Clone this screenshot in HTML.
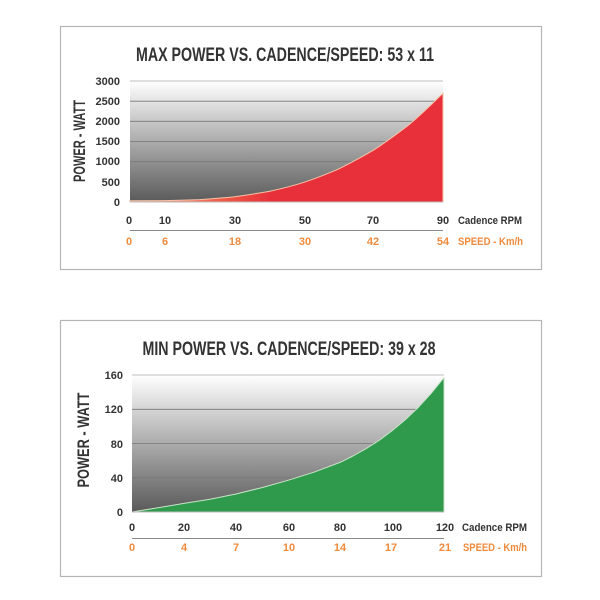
<!DOCTYPE html>
<html><head><meta charset="utf-8"><style>
html,body{margin:0;padding:0;background:#fff;}
svg{display:block;}
text{font-family:"Liberation Sans Narrow","Liberation Sans",sans-serif;font-weight:bold;}
</style></head><body>
<svg width="600" height="600" viewBox="0 0 600 600" xmlns="http://www.w3.org/2000/svg">
<defs>
<linearGradient id="bg1" x1="0" y1="0" x2="0" y2="1">
<stop offset="0" stop-color="#ffffff"/><stop offset="0.45" stop-color="#b4b4b4"/><stop offset="1" stop-color="#5a5a5a"/>
</linearGradient>
<linearGradient id="bg2" x1="0" y1="0" x2="0" y2="1">
<stop offset="0" stop-color="#ffffff"/><stop offset="0.45" stop-color="#b4b4b4"/><stop offset="1" stop-color="#5a5a5a"/>
</linearGradient>
<linearGradient id="red" x1="0" y1="0" x2="1" y2="0">
<stop offset="0" stop-color="#f2b59e"/><stop offset="0.3" stop-color="#ee5a45"/><stop offset="0.45" stop-color="#e8303a"/><stop offset="1" stop-color="#e8303a"/>
</linearGradient>
</defs>

<!-- Panel 1 -->
<rect x="60.5" y="26.5" width="481" height="243" fill="#fff" stroke="#b5b5b5" stroke-width="1.2"/>
<text x="285" y="61" font-size="19" text-anchor="middle" fill="#333" textLength="298" lengthAdjust="spacingAndGlyphs">MAX POWER VS. CADENCE/SPEED: 53 x 11</text>
<rect x="130" y="81" width="313" height="121" fill="url(#bg1)"/>
<g stroke="#777" stroke-width="0.8">
<line x1="130" y1="81" x2="443" y2="81" stroke="#aaa"/>
<line x1="130" y1="101.2" x2="443" y2="101.2"/>
<line x1="130" y1="121.3" x2="443" y2="121.3"/>
<line x1="130" y1="141.5" x2="443" y2="141.5"/>
<line x1="130" y1="161.7" x2="443" y2="161.7"/>
<line x1="130" y1="181.8" x2="443" y2="181.8"/>
</g>
<path d="M130,200.8 C147,200.7 160,200.7 164.8,200.6 C180,200.3 190,200 199.6,199.6 C212,198.8 224,197.9 234.4,196.8 C247,195 258,193.3 269.2,191.4 C281,188.8 293,185.8 304,182.3 C316,178.2 327,174 338.8,168.9 C351,162.8 362,157 373.6,150.1 C386,142 397,134 408.4,125.2 C420,115.5 432,104 443,93.1 L443,202 L130,202 Z" fill="url(#red)" stroke="#f6c3a8" stroke-width="1"/>
<line x1="130" y1="202" x2="443" y2="202" stroke="#bbb" stroke-width="1"/>
<g font-size="11" fill="#333" text-anchor="end">
<text x="120" y="85">3000</text><text x="120" y="105">2500</text><text x="120" y="125">2000</text>
<text x="120" y="145">1500</text><text x="120" y="165">1000</text><text x="120" y="186">500</text><text x="120" y="206">0</text>
</g>
<text transform="translate(85,141) rotate(-90)" font-size="17" fill="#333" text-anchor="middle" textLength="82" lengthAdjust="spacingAndGlyphs">POWER - WATT</text>
<g font-size="11" fill="#333" text-anchor="middle">
<text x="129" y="224">0</text><text x="165" y="224">10</text><text x="235" y="224">30</text>
<text x="305" y="224">50</text><text x="373" y="224">70</text><text x="443" y="224">90</text>
</g>
<text x="458" y="224" font-size="11" fill="#333" textLength="64" lengthAdjust="spacingAndGlyphs">Cadence RPM</text>
<line x1="130" y1="230.5" x2="443" y2="230.5" stroke="#888" stroke-width="1"/>
<g font-size="11" fill="#f08a3c" text-anchor="middle">
<text x="129" y="245">0</text><text x="165" y="245">6</text><text x="235" y="245">18</text>
<text x="305" y="245">30</text><text x="373" y="245">42</text><text x="443" y="245">54</text>
</g>
<text x="458" y="245" font-size="11" fill="#f08a3c" textLength="65" lengthAdjust="spacingAndGlyphs">SPEED - Km/h</text>

<!-- Panel 2 -->
<rect x="60.5" y="320.5" width="481" height="256" fill="#fff" stroke="#b5b5b5" stroke-width="1.2"/>
<text x="289" y="355" font-size="19" text-anchor="middle" fill="#333" textLength="293" lengthAdjust="spacingAndGlyphs">MIN POWER VS. CADENCE/SPEED: 39 x 28</text>
<rect x="132" y="375" width="312" height="137" fill="url(#bg2)"/>
<g stroke="#777" stroke-width="0.8">
<line x1="132" y1="375" x2="444" y2="375" stroke="#aaa"/>
<line x1="132" y1="409.3" x2="444" y2="409.3"/>
<line x1="132" y1="443.5" x2="444" y2="443.5"/>
<line x1="132" y1="477.8" x2="444" y2="477.8"/>
</g>
<path d="M132,512 L158,507.7 L184,503.4 L210,499.2 L236,494 L262,487.6 L288,480.3 L314,472.2 L340,462.4 L353,456 L366,448.7 L379,440.5 L392,430.7 L405,420 L418,407.6 L431,393.5 L444,377.6 L444,512 Z" fill="#2f9a4c" stroke="#c9e3c9" stroke-width="1" stroke-linejoin="round"/>
<line x1="132" y1="512" x2="444" y2="512" stroke="#bbb" stroke-width="1"/>
<g font-size="11" fill="#333" text-anchor="end">
<text x="123" y="379">160</text><text x="123" y="413">120</text><text x="123" y="448">80</text>
<text x="123" y="482">40</text><text x="123" y="516">0</text>
</g>
<text transform="translate(89,440) rotate(-90)" font-size="17" fill="#333" text-anchor="middle" textLength="95" lengthAdjust="spacingAndGlyphs">POWER - WATT</text>
<g font-size="11" fill="#333" text-anchor="middle">
<text x="132" y="531">0</text><text x="184" y="531">20</text><text x="236" y="531">40</text>
<text x="289" y="531">60</text><text x="340" y="531">80</text><text x="393" y="531">100</text><text x="445" y="531">120</text>
</g>
<text x="462" y="531" font-size="11" fill="#333" textLength="65" lengthAdjust="spacingAndGlyphs">Cadence RPM</text>
<line x1="132" y1="538.5" x2="444" y2="538.5" stroke="#888" stroke-width="1"/>
<g font-size="11" fill="#f08a3c" text-anchor="middle">
<text x="132" y="551">0</text><text x="184" y="551">4</text><text x="236" y="551">7</text>
<text x="289" y="551">10</text><text x="340" y="551">14</text><text x="391" y="551">17</text><text x="445" y="551">21</text>
</g>
<text x="463" y="551" font-size="11" fill="#f08a3c" textLength="64" lengthAdjust="spacingAndGlyphs">SPEED - Km/h</text>
</svg>
</body></html>
